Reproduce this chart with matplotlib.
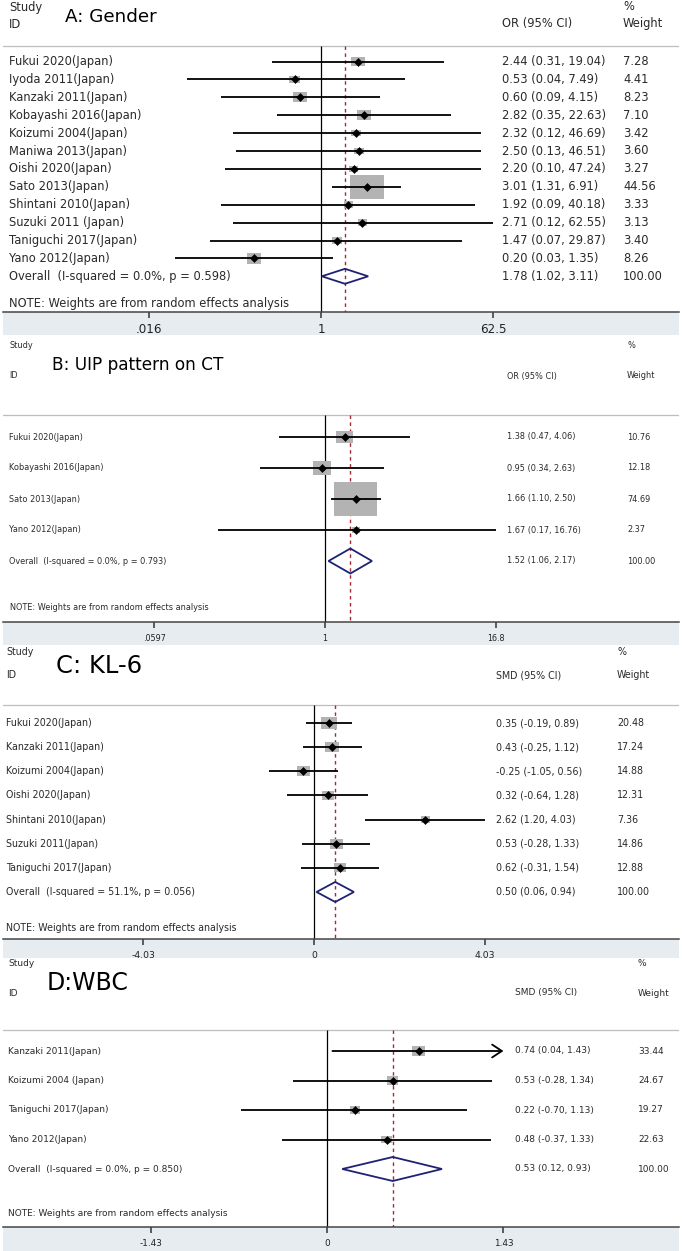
import matplotlib
matplotlib.use("Agg")
import matplotlib.pyplot as plt
import numpy as np
from matplotlib.patches import Rectangle, Polygon
from matplotlib.ticker import NullLocator
from matplotlib.transforms import ScaledTranslation, blended_transform_factory

plt.rcParams['font.family'] = ['DejaVu Sans']

W, H = 682, 1251

# ---- A: Gender (odds ratio)
a_studies = ["Fukui 2020(Japan)", "Iyoda 2011(Japan)", "Kanzaki 2011(Japan)", "Kobayashi 2016(Japan)",
             "Koizumi 2004(Japan)", "Maniwa 2013(Japan)", "Oishi 2020(Japan)", "Sato 2013(Japan)",
             "Shintani 2010(Japan)", "Suzuki 2011 (Japan)", "Taniguchi 2017(Japan)", "Yano 2012(Japan)"]
a_est = [2.44, 0.53, 0.60, 2.82, 2.32, 2.50, 2.20, 3.01, 1.92, 2.71, 1.47, 0.20]
a_lo = [0.31, 0.04, 0.09, 0.35, 0.12, 0.13, 0.10, 1.31, 0.09, 0.12, 0.07, 0.03]
a_hi = [19.04, 7.49, 4.15, 22.63, 46.69, 46.51, 47.24, 6.91, 40.18, 62.55, 29.87, 1.35]
a_wt = [7.28, 4.41, 8.23, 7.10, 3.42, 3.60, 3.27, 44.56, 3.33, 3.13, 3.40, 8.26]
a_overall = [1.78, 1.02, 3.11]
a_het = "Overall  (I-squared = 0.0%, p = 0.598)"
a_ticks = [0.016, 1, 62.5]
a_ticklabels = [".016", "1", "62.5"]

# ---- B: UIP pattern on CT (odds ratio)
b_studies = ["Fukui 2020(Japan)", "Kobayashi 2016(Japan)", "Sato 2013(Japan)", "Yano 2012(Japan)"]
b_est = [1.38, 0.95, 1.66, 1.67]
b_lo = [0.47, 0.34, 1.10, 0.17]
b_hi = [4.06, 2.63, 2.50, 16.76]
b_wt = [10.76, 12.18, 74.69, 2.37]
b_overall = [1.52, 1.06, 2.17]
b_het = "Overall  (I-squared = 0.0%, p = 0.793)"
b_ticks = [0.0597, 1, 16.8]
b_ticklabels = [".0597", "1", "16.8"]

# ---- C: KL-6 (standardised mean difference)
c_studies = ["Fukui 2020(Japan)", "Kanzaki 2011(Japan)", "Koizumi 2004(Japan)", "Oishi 2020(Japan)",
             "Shintani 2010(Japan)", "Suzuki 2011(Japan)", "Taniguchi 2017(Japan)"]
c_est = [0.35, 0.43, -0.25, 0.32, 2.62, 0.53, 0.62]
c_lo = [-0.19, -0.25, -1.05, -0.64, 1.20, -0.28, -0.31]
c_hi = [0.89, 1.12, 0.56, 1.28, 4.03, 1.33, 1.54]
c_wt = [20.48, 17.24, 14.88, 12.31, 7.36, 14.86, 12.88]
c_overall = [0.50, 0.06, 0.94]
c_het = "Overall  (I-squared = 51.1%, p = 0.056)"
c_ticks = [-4.03, 0, 4.03]
c_ticklabels = ["-4.03", "0", "4.03"]

# ---- D: WBC (standardised mean difference)
d_studies = ["Kanzaki 2011(Japan)", "Koizumi 2004 (Japan)", "Taniguchi 2017(Japan)", "Yano 2012(Japan)"]
d_est = [0.74, 0.53, 0.22, 0.48]
d_lo = [0.04, -0.28, -0.70, -0.37]
d_hi = [1.43, 1.34, 1.13, 1.33]
d_wt = [33.44, 24.67, 19.27, 22.63]
d_overall = [0.53, 0.12, 0.93]
d_het = "Overall  (I-squared = 0.0%, p = 0.850)"
d_ticks = [-1.43, 0, 1.43]
d_ticklabels = ["-1.43", "0", "1.43"]
d_arrow = [True, False, False, False]

note = "NOTE: Weights are from random effects analysis"

fig = plt.figure(figsize=(W / 100, H / 100), dpi=100)


def draw_panel(title, col, log, studies, est, lo, hi, wt, overall, het, ticks, ticklabels, L, arrows=None):
    top, axis_y = L['top'], L['axis']
    ax = fig.add_axes([3 / W, 1 - axis_y / H, 676 / W, (axis_y - top) / H])
    ax.set_ylim(axis_y, top)
    p0, s = L['p0'], L['span']
    if log:
        ax.set_xscale('log')
        lt = np.log(ticks[-1])
        ax.set_xlim(np.exp((3 - p0) / s * lt), np.exp((679 - p0) / s * lt))
        null = 1
    else:
        t = ticks[-1]
        ax.set_xlim((3 - p0) / s * t, (679 - p0) / s * t)
        null = 0
    ax.set_facecolor('none')
    for sp in ['top', 'left', 'right']:
        ax.spines[sp].set_visible(False)
    ax.spines['bottom'].set_color('#444444')
    ax.spines['bottom'].set_linewidth(1.1)
    ax.set_yticks([])
    ax.set_xticks(ticks)
    ax.set_xticklabels(ticklabels)
    ax.xaxis.set_minor_locator(NullLocator())
    ax.tick_params(axis='x', length=4.5, width=1.1, color='#333333', pad=L['pad'],
                   labelsize=L['tfs'], labelcolor='#222222')

    # light band behind the tick labels
    fig.add_artist(Rectangle((3 / W, 1 - L['band'] / H), 676 / W, (L['band'] - axis_y) / H,
                             transform=fig.transFigure, facecolor='#e6ecf0', edgecolor='none', zorder=-1))

    tr = blended_transform_factory(fig.transFigure, ax.transData)
    fs = L['fs']
    tc = '#2a2a2a'
    kw = dict(transform=tr, fontsize=fs, color=tc, va='center', ha='left', clip_on=False)

    # header
    ax.text(L['lx'] / W, L['y_study'], "Study", **kw)
    ax.text(L['lx'] / W, L['y_id'], "ID", **kw)
    ax.text(L['ex'] / W, L['y_id'], col, **kw)
    ax.text(L['wx'] / W, L['y_study'], "%", **kw)
    ax.text(L['wx'] / W, L['y_id'], "Weight", **kw)
    ax.text(L['title_x'] / W, L['y_title'], title, transform=tr, fontsize=L['title_fs'],
            color='black', va='center', ha='left')
    ax.axhline(L['sep'], color='#bdbdbd', lw=0.9)

    n = len(studies)
    ys = L['row0'] + L['dy'] * np.arange(n + 1)

    # reference lines
    ax.vlines(null, L['sep'], axis_y, color='black', lw=0.9, zorder=2)
    ax.vlines(overall[0], L['sep'], axis_y, colors='#a32a35', lw=1.0,
              linestyles=(0, (2.5, 2.5)), zorder=2)

    for i in range(n):
        y = ys[i]
        w = L['kw'] * np.sqrt(wt[i]) / 100
        h = L['kh'] * np.sqrt(wt[i]) / 100
        sq = Rectangle((-w / 2, -h / 2), w, h, facecolor='#b3b3b3', edgecolor='none',
                       transform=fig.dpi_scale_trans + ScaledTranslation(est[i], y, ax.transData), zorder=3)
        ax.add_artist(sq)
        if arrows is not None and arrows[i]:
            ax.annotate('', xy=(hi[i], y), xytext=(lo[i], y),
                        arrowprops=dict(arrowstyle='->,head_length=0.5,head_width=0.33', lw=1.3,
                                        color='black', shrinkA=0, shrinkB=0, mutation_scale=14),
                        zorder=4)
        else:
            ax.hlines(y, lo[i], hi[i], color='black', lw=1.3, zorder=4)
        ax.plot(est[i], y, marker='D', color='black', ms=4.0, mew=0.4, ls='none', zorder=5)
        ax.text(L['lx'] / W, y, studies[i], **kw)
        ax.text(L['ex'] / W, y, f"{est[i]:.2f} ({lo[i]:.2f}, {hi[i]:.2f})", **kw)
        ax.text(L['wx'] / W, y, f"{wt[i]:.2f}", **kw)

    # pooled estimate
    y = ys[n]
    dh = L['dh']
    dia = Polygon([(overall[1], y), (overall[0], y - dh), (overall[2], y), (overall[0], y + dh)],
                  closed=True, fill=False, edgecolor='#1d2275', lw=1.3, zorder=5)
    ax.add_patch(dia)
    ax.text(L['lx'] / W, y, het, **kw)
    ax.text(L['ex'] / W, y, f"{overall[0]:.2f} ({overall[1]:.2f}, {overall[2]:.2f})", **kw)
    ax.text(L['wx'] / W, y, "100.00", **kw)
    ax.text(L['nx'] / W, L['y_note'], note, **kw)
    return ax


layout_a = dict(top=0, axis=312, band=335, p0=321, span=172, pad=3.6, tfs=8.6, fs=8.3,
                lx=9, ex=502, wx=623, title_x=65, title_fs=13.2, y_study=7, y_id=24, y_title=17,
                sep=46, row0=61.5, dy=17.9, y_note=303, nx=9, kw=5.0, kh=3.6, dh=7.5)
layout_b = dict(top=337, axis=622, band=645, p0=325, span=171, pad=4.0, tfs=5.8, fs=5.9,
                lx=9, ex=507, wx=627, title_x=52, title_fs=12.2, y_study=345, y_id=376, y_title=365,
                sep=415, row0=437, dy=31, y_note=607, nx=10, kw=5.0, kh=3.9, dh=12.5)
layout_c = dict(top=647, axis=939, band=958, p0=314, span=171, pad=4.0, tfs=6.7, fs=6.85,
                lx=6, ex=496, wx=617, title_x=56, title_fs=17.5, y_study=652, y_id=675, y_title=666,
                sep=705, row0=723, dy=24.14, y_note=928, nx=6, kw=3.4, kh=2.5, dh=10)
layout_d = dict(top=959, axis=1227, band=1251, p0=327.5, span=176, pad=4.0, tfs=6.4, fs=6.5,
                lx=8, ex=515, wx=638, title_x=47, title_fs=17.0, y_study=963, y_id=993, y_title=983,
                sep=1030, row0=1051, dy=29.5, y_note=1213, nx=8, kw=2.25, kh=1.65, dh=12)

draw_panel("A: Gender", "OR (95% CI)", True, a_studies, a_est, a_lo, a_hi, a_wt, a_overall, a_het,
           a_ticks, a_ticklabels, layout_a)
draw_panel("B: UIP pattern on CT", "OR (95% CI)", True, b_studies, b_est, b_lo, b_hi, b_wt, b_overall,
           b_het, b_ticks, b_ticklabels, layout_b)
draw_panel("C: KL-6", "SMD (95% CI)", False, c_studies, c_est, c_lo, c_hi, c_wt, c_overall, c_het,
           c_ticks, c_ticklabels, layout_c)
draw_panel("D:WBC", "SMD (95% CI)", False, d_studies, d_est, d_lo, d_hi, d_wt, d_overall, d_het,
           d_ticks, d_ticklabels, layout_d, arrows=d_arrow)

fig.savefig("out.png", dpi=100)
